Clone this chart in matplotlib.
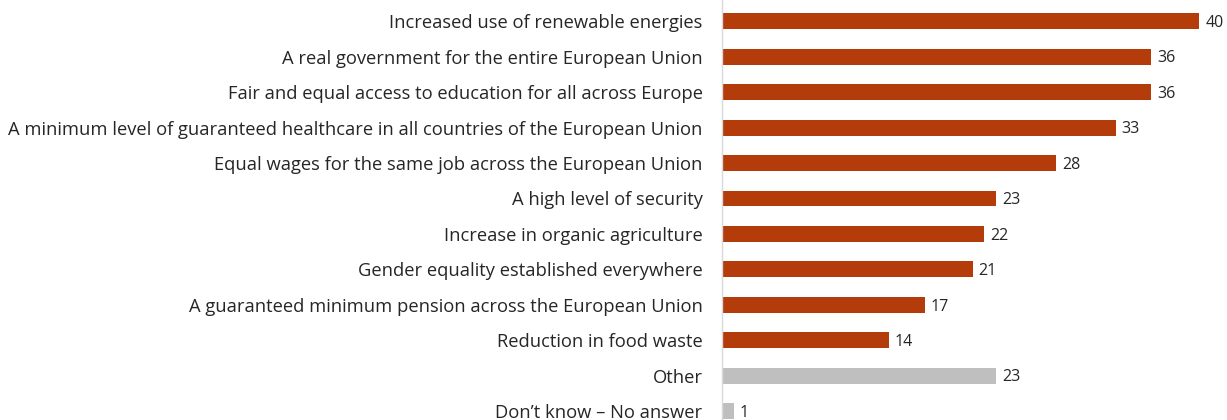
import matplotlib.pyplot as plt

labels = [
    "Increased use of renewable energies",
    "A real government for the entire European Union",
    "Fair and equal access to education for all across Europe",
    "A minimum level of guaranteed healthcare in all countries of the European Union",
    "Equal wages for the same job across the European Union",
    "A high level of security",
    "Increase in organic agriculture",
    "Gender equality established everywhere",
    "A guaranteed minimum pension across the European Union",
    "Reduction in food waste",
    "Other",
    "Don\u2019t know \u2013 No answer",
]
values = [40, 36, 36, 33, 28, 23, 22, 21, 17, 14, 23, 1]
colors = ["#B33C0A"] * 10 + ["#BFBFBF"] * 2

plt.rcParams['font.family'] = ['Open Sans', 'DejaVu Sans']

fig = plt.figure(figsize=(12.27, 4.2), dpi=100)
ax = fig.add_axes([722 / 1227, 0, 505 / 1227, 1])

pos = list(range(len(labels)))
ax.barh(pos, values, height=0.45, color=colors)
ax.set_xlim(0, 505 / 11.93)
ax.set_ylim(11.25, -0.6)

for i, v in enumerate(values):
    ax.text(v + 0.5, i + 0.05, str(v), va='center', ha='left', fontsize=11.5, color='#262626')

ax.set_yticks(pos)
ax.set_yticklabels(labels, fontsize=13.2, color='#262626')
ax.tick_params(axis='y', length=0, pad=14)
ax.set_xticks([])
for s in ['top', 'right', 'bottom']:
    ax.spines[s].set_visible(False)
ax.spines['left'].set_color('#D9D9D9')
ax.spines['left'].set_linewidth(1)

fig.savefig('out.png', dpi=100)
